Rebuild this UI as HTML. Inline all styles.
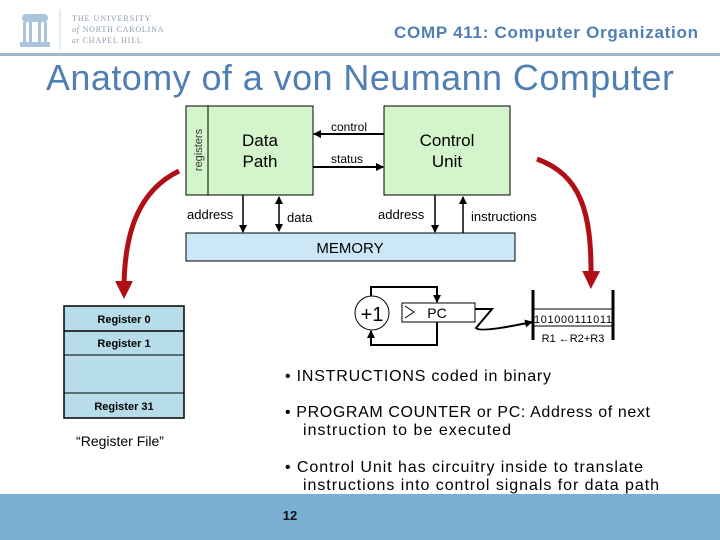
<!DOCTYPE html>
<html><head><meta charset="utf-8"><style>
html,body{margin:0;padding:0;background:#fff;}
svg{display:block;}
</style></head><body>
<svg width="720" height="540" viewBox="0 0 720 540" xmlns="http://www.w3.org/2000/svg" font-family="Liberation Sans, DejaVu Sans, sans-serif">
<defs>
<marker id="a" markerWidth="8" markerHeight="8" refX="7" refY="4" orient="auto" markerUnits="userSpaceOnUse"><path d="M0,0 L8,4 L0,8 z" fill="#000"/></marker>
<marker id="as" markerWidth="8" markerHeight="8" refX="1" refY="4" orient="auto" markerUnits="userSpaceOnUse"><path d="M8,0 L0,4 L8,8 z" fill="#000"/></marker>
<marker id="r" markerWidth="18" markerHeight="18" refX="9" refY="9" orient="auto" markerUnits="userSpaceOnUse"><path d="M0,0 L18,9 L0,18 z" fill="#b01015"/></marker>
</defs>
<!-- header -->
<g fill="#a9c4dd" stroke="none">
<rect x="22" y="14" width="26" height="8" rx="4"/>
<rect x="23" y="22" width="3" height="20"/><rect x="29" y="22" width="3" height="20"/><rect x="38" y="22" width="3" height="20"/><rect x="44" y="22" width="3" height="20"/>
<rect x="20" y="42" width="30" height="5"/>
</g>
<line x1="60" y1="9" x2="60" y2="49" stroke="#c8d6e4"/>
<text x="72" y="21" font-family="Liberation Serif, serif" font-size="8" fill="#8a9bb0" letter-spacing="1">THE UNIVERSITY</text>
<text x="72" y="32" font-family="Liberation Serif, serif" font-size="8" fill="#8a9bb0" letter-spacing="0.8"><tspan font-style="italic">of</tspan> NORTH CAROLINA</text>
<text x="72" y="43" font-family="Liberation Serif, serif" font-size="8" fill="#8a9bb0" letter-spacing="0.8"><tspan font-style="italic">at</tspan> CHAPEL HILL</text>
<text x="698" y="38" text-anchor="end" font-size="17" font-weight="bold" fill="#4f7fb3" textLength="304">COMP 411: Computer Organization</text>
<rect x="0" y="53" width="720" height="3" fill="#9fb8cf"/>
<text x="360" y="90" text-anchor="middle" font-size="36" fill="#4f7fb3" textLength="628">Anatomy of a von Neumann Computer</text>

<!-- diagram -->
<rect x="186" y="106" width="127" height="89" fill="#d4f5cc" stroke="#000"/>
<line x1="208" y1="106" x2="208" y2="195" stroke="#000"/>
<text transform="translate(202,150) rotate(-90)" text-anchor="middle" font-size="11" fill="#333">registers</text>
<text x="260" y="146" text-anchor="middle" font-size="17">Data</text>
<text x="260" y="167" text-anchor="middle" font-size="17">Path</text>
<rect x="384" y="106" width="126" height="89" fill="#d4f5cc" stroke="#000"/>
<text x="447" y="146" text-anchor="middle" font-size="17">Control</text>
<text x="447" y="167" text-anchor="middle" font-size="17">Unit</text>
<line x1="384" y1="134" x2="314" y2="134" stroke="#000" stroke-width="2" marker-end="url(#a)"/>
<text x="349" y="131" text-anchor="middle" font-size="12">control</text>
<line x1="313" y1="167" x2="383" y2="167" stroke="#000" stroke-width="2" marker-end="url(#a)"/>
<text x="347" y="163" text-anchor="middle" font-size="12">status</text>
<rect x="186" y="233" width="329" height="28" fill="#cce8f6" stroke="#000"/>
<text x="350" y="253" text-anchor="middle" font-size="15">MEMORY</text>
<line x1="243" y1="195" x2="243" y2="232" stroke="#000" stroke-width="1.5" marker-end="url(#a)"/>
<text x="187" y="219" font-size="13">address</text>
<line x1="279" y1="197" x2="279" y2="231" stroke="#000" stroke-width="1.5" marker-end="url(#a)" marker-start="url(#as)"/>
<text x="287" y="222" font-size="13">data</text>
<line x1="435" y1="195" x2="435" y2="232" stroke="#000" stroke-width="1.5" marker-end="url(#a)"/>
<text x="378" y="219" font-size="13">address</text>
<line x1="463" y1="233" x2="463" y2="197" stroke="#000" stroke-width="1.5" marker-end="url(#a)"/>
<text x="471" y="221" font-size="13">instructions</text>

<!-- red arrows -->
<path d="M179,171 C140,190 124,230 124,290" fill="none" stroke="#b01015" stroke-width="5" marker-end="url(#r)"/>
<path d="M537,159 C580,175 592,210 591,280" fill="none" stroke="#b01015" stroke-width="5" marker-end="url(#r)"/>

<!-- register file -->
<rect x="64" y="306" width="120" height="112" fill="#b7dcea" stroke="#000" stroke-width="1.5"/>
<line x1="64" y1="331" x2="184" y2="331" stroke="#000" stroke-width="1.5"/>
<line x1="64" y1="355" x2="184" y2="355" stroke="#000"/>
<line x1="64" y1="393" x2="184" y2="393" stroke="#000"/>
<text x="124" y="323" text-anchor="middle" font-size="11" font-weight="bold">Register 0</text>
<text x="124" y="347" text-anchor="middle" font-size="11" font-weight="bold">Register 1</text>
<text x="124" y="410" text-anchor="middle" font-size="11" font-weight="bold">Register 31</text>
<text x="120" y="446" text-anchor="middle" font-size="14">“Register File”</text>

<!-- PC -->
<circle cx="372" cy="313" r="17" fill="#fff" stroke="#000"/>
<text x="372" y="321" text-anchor="middle" font-size="20">+1</text>
<rect x="402" y="303" width="73" height="19" fill="#fff" stroke="#000"/>
<path d="M405,306 L414,312 L405,318" fill="none" stroke="#000"/>
<text x="437" y="318" text-anchor="middle" font-size="14">PC</text>
<path d="M371,296 L371,287 L437,287 L437,302" fill="none" stroke="#000" stroke-width="2" marker-end="url(#a)"/>
<path d="M437,322 L437,345 L371,345 L371,331" fill="none" stroke="#000" stroke-width="2" marker-end="url(#a)"/>
<path d="M475,309 L492,309 L476,328 Q480,333 532,322" fill="none" stroke="#000" stroke-width="2" marker-end="url(#a)"/>
<line x1="533" y1="290" x2="533" y2="340" stroke="#000" stroke-width="3"/>
<line x1="613" y1="290" x2="613" y2="340" stroke="#000" stroke-width="3"/>
<line x1="533" y1="309" x2="613" y2="309" stroke="#000"/>
<line x1="533" y1="326" x2="613" y2="326" stroke="#000"/>
<text x="573" y="323" text-anchor="middle" font-size="11" textLength="78">101000111011</text>
<text x="573" y="342" text-anchor="middle" font-size="11">R1 ←R2+R3</text>

<!-- bullets -->
<g font-size="16">
<text x="285" y="381" textLength="266">• INSTRUCTIONS coded in binary</text>
<text x="285" y="417" textLength="365">• PROGRAM COUNTER or PC: Address of next</text>
<text x="303" y="435" textLength="208">instruction to be executed</text>
<text x="285" y="472" textLength="358">• Control Unit has circuitry inside to translate</text>
<text x="303" y="490" textLength="356">instructions into control signals for data path</text>
</g>
<rect x="0" y="494" width="720" height="46" fill="#7aaed3"/>
<text x="290" y="520" text-anchor="middle" font-size="13" font-weight="bold" fill="#111">12</text>
</svg>
</body></html>
